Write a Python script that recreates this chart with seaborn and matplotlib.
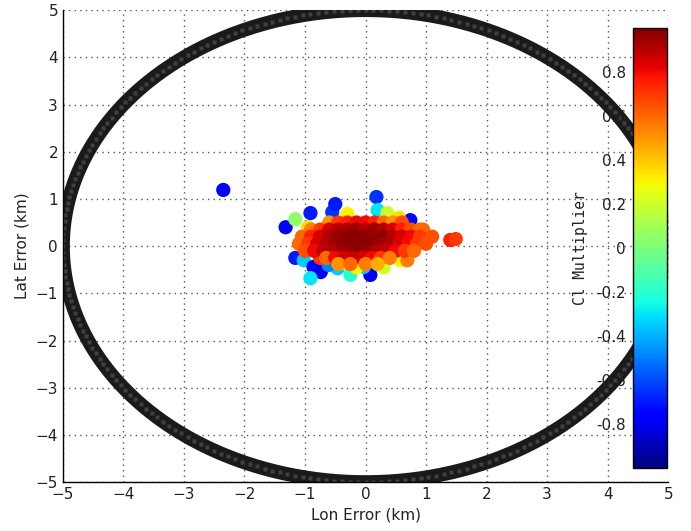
import numpy as np
import pandas as pd
import matplotlib
matplotlib.use("Agg")
import matplotlib.pyplot as plt
import seaborn as sns

# ---- data ----
# peripheral (scattered) samples
edge_lon = [-2.35, -1.32, -1.16, -0.91, -0.55, -0.50, 0.18, 0.20, 0.36, 0.74, 0.55, -0.30,
            -1.16, -1.02, -0.86, -0.74, -0.91, -0.46, -0.25, 0.08, -0.03, -0.61, -0.36,
            -0.15, 0.58, 0.69, 1.40, 1.49, 0.95, 1.00, -1.05, -0.95, 0.30, -0.75]
edge_lat = [1.19, 0.40, 0.57, 0.70, 0.72, 0.89, 1.04, 0.76, 0.70, 0.55, 0.60, 0.68,
            -0.25, -0.30, -0.44, -0.55, -0.68, -0.47, -0.61, -0.61, -0.44, -0.40, -0.36,
            -0.45, -0.30, -0.30, 0.13, 0.15, 0.35, 0.20, 0.10, 0.40, -0.45, -0.25]
edge_cl = [-0.75, -0.75, 0.05, -0.70, -0.65, -0.70, -0.65, -0.30, 0.20, -0.75, 0.35, 0.30,
           -0.70, -0.35, -0.75, -0.80, -0.30, -0.35, -0.20, -0.80, -0.35, -0.50, 0.05,
           0.30, 0.30, 0.55, 0.75, 0.70, 0.60, 0.55, 0.45, 0.35, 0.20, 0.70]

# dense core samples
core_lon = [-0.60, -0.45, -0.30, -0.15, 0.00, 0.15, 0.30, 0.45, 0.60,
            -0.90, -0.75, -0.60, -0.45, -0.30, -0.15, 0.00, 0.15, 0.30, 0.45, 0.60, 0.75, 0.90,
            -1.05, -0.90, -0.75, -0.60, -0.45, -0.30, -0.15, 0.00, 0.15, 0.30, 0.45, 0.60, 0.75, 0.90, 1.10,
            -1.10, -0.95, -0.80, -0.65, -0.50, -0.35, -0.20, -0.05, 0.10, 0.25, 0.40, 0.55, 0.70, 0.85, 1.00,
            -1.00, -0.85, -0.70, -0.55, -0.40, -0.25, -0.10, 0.05, 0.20, 0.35, 0.50, 0.65, 0.80,
            -0.65, -0.50, -0.35, -0.20, -0.05, 0.10, 0.25, 0.40,
            -0.45, -0.25, 0.00, 0.20]
core_lat = [0.50] * 9 + [0.35] * 13 + [0.20] * 15 + [0.05] * 15 + [-0.10] * 13 + [-0.25] * 8 + [-0.38] * 4
core_cl = [0.50, 0.70, 0.75, 0.80, 0.80, 0.75, 0.60, 0.50, 0.65,
           0.55, 0.70, 0.85, 0.90, 0.92, 0.95, 0.90, 0.95, 0.90, 0.85, 0.75, 0.65, 0.60,
           0.60, 0.75, 0.85, 0.92, 0.95, 0.97, 0.98, 0.97, 0.95, 0.97, 0.90, 0.85, 0.80, 0.70, 0.65,
           0.60, 0.70, 0.85, 0.90, 0.95, 0.97, 0.98, 0.97, 0.98, 0.95, 0.92, 0.85, 0.80, 0.70, 0.65,
           0.65, 0.80, 0.88, 0.90, 0.95, 0.95, 0.97, 0.95, 0.90, 0.88, 0.80, 0.70, 0.60,
           0.60, 0.80, 0.85, 0.88, 0.85, 0.80, 0.70, 0.55,
           0.50, 0.60, 0.55, 0.45]

ring_radius_km = 5.0
ticks = [-5, -4, -3, -2, -1, 0, 1, 2, 3, 4, 5]
cbar_ticks = [-0.8, -0.6, -0.4, -0.2, 0, 0.2, 0.4, 0.6, 0.8]

# ---- figure ----
sns.set_style("white")
plt.rcParams['font.family'] = ['DejaVu Sans']
jet = matplotlib.colormaps["jet"]

fig = plt.figure(figsize=(6.91, 5.31), dpi=100)
ax = fig.add_axes([0.091, 0.092, 0.876, 0.889])

theta = np.linspace(0, 2 * np.pi, 721)
ring = pd.DataFrame({"x": ring_radius_km * np.cos(theta),
                     "y": ring_radius_km * np.sin(theta)})
sns.lineplot(data=ring, x="x", y="y", sort=False, estimator=None, color="#1a1a1a",
             lw=10, ax=ax, zorder=2)
ax.plot(ring["x"][::3], ring["y"][::3], ls="none", marker="s", ms=3.5,
        mfc="#707070", mec="none", alpha=0.45, zorder=2.1)

pts = pd.DataFrame({"lon": edge_lon + core_lon,
                    "lat": edge_lat + core_lat,
                    "cl": edge_cl + core_cl})
sns.scatterplot(data=pts, x="lon", y="lat", hue="cl", palette=jet,
                hue_norm=(-1, 1), s=105, edgecolor="none", legend=False,
                ax=ax, zorder=3)

ax.set_xlim(-5, 5)
ax.set_ylim(-5, 5)
ax.set_xticks(ticks)
ax.set_yticks(ticks)
ax.grid(True, ls=(0, (1, 3)), color="#555555", lw=1.0)
ax.set_axisbelow(True)
for s in ["top", "right"]:
    ax.spines[s].set_visible(False)
for s in ["left", "bottom"]:
    ax.spines[s].set_color("black")
    ax.spines[s].set_linewidth(1.0)
ax.tick_params(direction="in", length=4, width=1, labelsize=11, colors="#222222")
ax.set_xlabel("Lon Error (km)", fontsize=11, color="#222222")
ax.set_ylabel("Lat Error (km)", fontsize=11, color="#222222")

# colorbar inside axes
cax = fig.add_axes([0.916, 0.119, 0.049, 0.829])
sm = plt.cm.ScalarMappable(cmap=jet, norm=plt.Normalize(-1, 1))
cb = fig.colorbar(sm, cax=cax, ticks=cbar_ticks)
cb.outline.set_edgecolor("black")
cb.outline.set_linewidth(1.0)
cax.yaxis.set_ticks_position("both")
cax.yaxis.set_label_position("left")
cax.tick_params(direction="in", length=3, labelleft=True, labelright=False,
                labelsize=11, colors="#222222", pad=5)
cax.set_yticklabels([("%g" % t) for t in cbar_ticks])
cax.set_ylabel("Cl Multiplier", family="DejaVu Sans Mono", fontsize=10.5, color="#222222")
cax.yaxis.set_label_coords(-1.32, 0.5)

fig.savefig("out.png", dpi=100, facecolor="white")
